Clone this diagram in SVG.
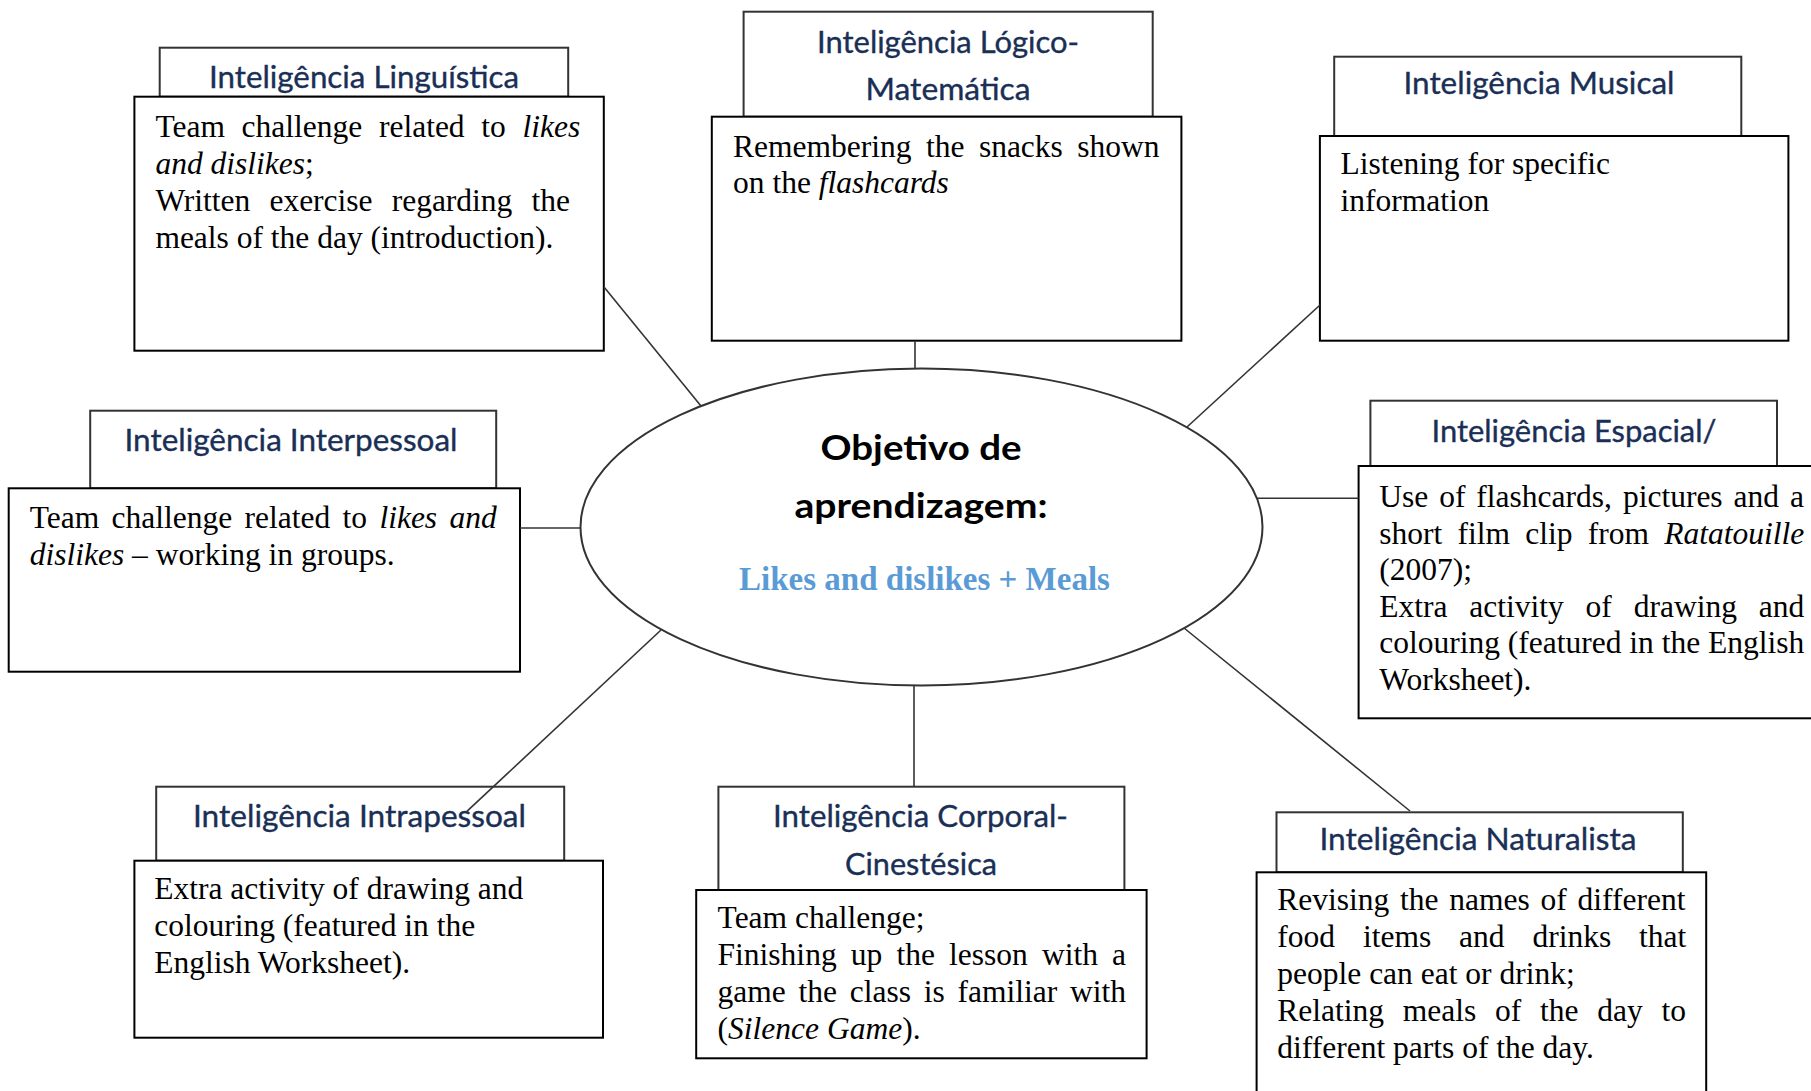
<svg xmlns="http://www.w3.org/2000/svg" width="1811" height="1091" viewBox="0 0 1811 1091">
<style>
.hbox{fill:#fff;stroke:#333;stroke-width:2}
.box{fill:#fff;stroke:#000;stroke-width:2}
.hdr{font-family:Lato,"Liberation Sans",sans-serif;font-size:30.5px;fill:#1a2f56;stroke:#1a2f56;stroke-width:0.35;text-anchor:middle}
.tx{font-family:"Liberation Serif","Times New Roman",serif;font-size:31.5px;fill:#000}
.it{font-style:italic}
.conn line{stroke:#333;stroke-width:1.6}
</style>
<rect width="1811" height="1091" fill="#fff"/>

<g id="center">
<ellipse cx="921.5" cy="527" rx="341" ry="158.5" fill="#fff" stroke="#333" stroke-width="2"/>
<text x="921" y="460" font-family="Lato,'Liberation Sans',sans-serif" font-weight="bold" font-size="35" text-anchor="middle" textLength="201" lengthAdjust="spacingAndGlyphs">Objetivo de</text>
<text x="921" y="518" font-family="Lato,'Liberation Sans',sans-serif" font-weight="bold" font-size="35" text-anchor="middle" textLength="253" lengthAdjust="spacingAndGlyphs">aprendizagem:</text>
<text x="924.5" y="590" font-family="'Liberation Serif','Times New Roman',serif" font-weight="bold" font-size="33" fill="#5B9BD5" text-anchor="middle">Likes and dislikes + Meals</text>
</g>

<g id="linguistica">
<rect class="hbox" x="159.7" y="47.7" width="408.5" height="49"/>
<text class="hdr" x="364" y="88" textLength="310" lengthAdjust="spacingAndGlyphs">Inteligência Linguística</text>
<rect class="box" x="134.4" y="96.7" width="469.4" height="254"/>
<text class="tx" x="155.4" y="136.7" word-spacing="8.8">Team challenge related to <tspan class="it">likes</tspan></text>
<text class="tx" x="155.4" y="173.7"><tspan class="it">and dislikes</tspan>;</text>
<text class="tx" x="155.4" y="210.7" word-spacing="11.2">Written exercise regarding the</text>
<text class="tx" x="155.4" y="247.7">meals of the day (introduction).</text>
</g>

<g id="logico">
<rect class="hbox" x="743.6" y="11.7" width="409.1" height="105"/>
<text class="hdr" x="948" y="53.3" textLength="262" lengthAdjust="spacingAndGlyphs">Inteligência Lógico-</text>
<text class="hdr" x="948" y="100" textLength="165" lengthAdjust="spacingAndGlyphs">Matemática</text>
<rect class="box" x="711.8" y="116.7" width="469.6" height="224"/>
<text class="tx" x="733" y="156.7" word-spacing="6.6">Remembering the snacks shown</text>
<text class="tx" x="733" y="193.3">on the <tspan class="it">flashcards</tspan></text>
</g>

<g id="musical">
<rect class="hbox" x="1334.2" y="56.7" width="407.1" height="79.3"/>
<text class="hdr" x="1539" y="94" textLength="271" lengthAdjust="spacingAndGlyphs">Inteligência Musical</text>
<rect class="box" x="1319.9" y="136" width="468.5" height="204.7"/>
<text class="tx" x="1340.6" y="174.3">Listening for specific</text>
<text class="tx" x="1340.6" y="211.3">information</text>
</g>

<g id="interpessoal">
<rect class="hbox" x="90.2" y="410.7" width="406" height="77.6"/>
<text class="hdr" x="291" y="450.7" textLength="333" lengthAdjust="spacingAndGlyphs">Inteligência Interpessoal</text>
<rect class="box" x="8.7" y="488.3" width="511.3" height="183.4"/>
<text class="tx" x="29.7" y="527.7" word-spacing="4.46">Team challenge related to <tspan class="it">likes and</tspan></text>
<text class="tx" x="29.7" y="564.7"><tspan class="it">dislikes</tspan> – working in groups.</text>
</g>

<g id="espacial">
<rect class="hbox" x="1370.4" y="400.7" width="406.6" height="65.3"/>
<text class="hdr" x="1574" y="441.7" textLength="285" lengthAdjust="spacingAndGlyphs">Inteligência Espacial/</text>
<rect class="box" x="1358.6" y="466" width="470" height="252.3"/>
<text class="tx" x="1379.2" y="507.3" word-spacing="3.1">Use of flashcards, pictures and a</text>
<text class="tx" x="1379.2" y="543.8" word-spacing="7.4">short film clip from <tspan class="it">Ratatouille</tspan></text>
<text class="tx" x="1379.2" y="580.3">(2007);</text>
<text class="tx" x="1379.2" y="616.8" word-spacing="14">Extra activity of drawing and</text>
<text class="tx" x="1379.2" y="653.3">colouring (featured in the English</text>
<text class="tx" x="1379.2" y="689.8">Worksheet).</text>
</g>

<g id="intrapessoal">
<rect class="hbox" x="156.2" y="786.7" width="408" height="74"/>
<text class="hdr" x="359.5" y="827.3" textLength="333" lengthAdjust="spacingAndGlyphs">Inteligência Intrapessoal</text>
<rect class="box" x="134.4" y="860.7" width="468.6" height="177"/>
<text class="tx" x="154.2" y="899.3">Extra activity of drawing and</text>
<text class="tx" x="154.2" y="936.3">colouring (featured in the</text>
<text class="tx" x="154.2" y="973.3">English Worksheet).</text>
</g>

<g id="corporal">
<rect class="hbox" x="718.4" y="786.7" width="406" height="103.3"/>
<text class="hdr" x="920.5" y="827.3" textLength="295" lengthAdjust="spacingAndGlyphs">Inteligência Corporal-</text>
<text class="hdr" x="921" y="875" textLength="152" lengthAdjust="spacingAndGlyphs">Cinestésica</text>
<rect class="box" x="696.2" y="890" width="450.4" height="168.3"/>
<text class="tx" x="717.6" y="928.3">Team challenge;</text>
<text class="tx" x="717.6" y="965.3" word-spacing="6.26">Finishing up the lesson with a</text>
<text class="tx" x="717.6" y="1002.3" word-spacing="4.86">game the class is familiar with</text>
<text class="tx" x="717.6" y="1039.3">(<tspan class="it">Silence Game</tspan>).</text>
</g>

<g id="naturalista">
<rect class="hbox" x="1276.5" y="812.3" width="406.3" height="60"/>
<text class="hdr" x="1478" y="850" textLength="317" lengthAdjust="spacingAndGlyphs">Inteligência Naturalista</text>
<rect class="box" x="1256.6" y="872.3" width="449.6" height="240"/>
<text class="tx" x="1277.3" y="910" word-spacing="2.9">Revising the names of different</text>
<text class="tx" x="1277.3" y="947" word-spacing="20">food items and drinks that</text>
<text class="tx" x="1277.3" y="984">people can eat or drink;</text>
<text class="tx" x="1277.3" y="1021" word-spacing="10.9">Relating meals of the day to</text>
<text class="tx" x="1277.3" y="1058">different parts of the day.</text>
</g>

<g id="connectors" class="conn">
<line x1="604" y1="287" x2="701" y2="406"/>
<line x1="915" y1="340.7" x2="915" y2="368.5"/>
<line x1="1320" y1="305" x2="1187" y2="427"/>
<line x1="520" y1="528" x2="580.5" y2="528"/>
<line x1="1257" y1="498.3" x2="1358.6" y2="498.3"/>
<line x1="661" y1="630" x2="466.6" y2="811.7"/>
<line x1="914" y1="685.5" x2="914" y2="786.7"/>
<line x1="1184" y1="628" x2="1410" y2="811"/>
</g>
</svg>
